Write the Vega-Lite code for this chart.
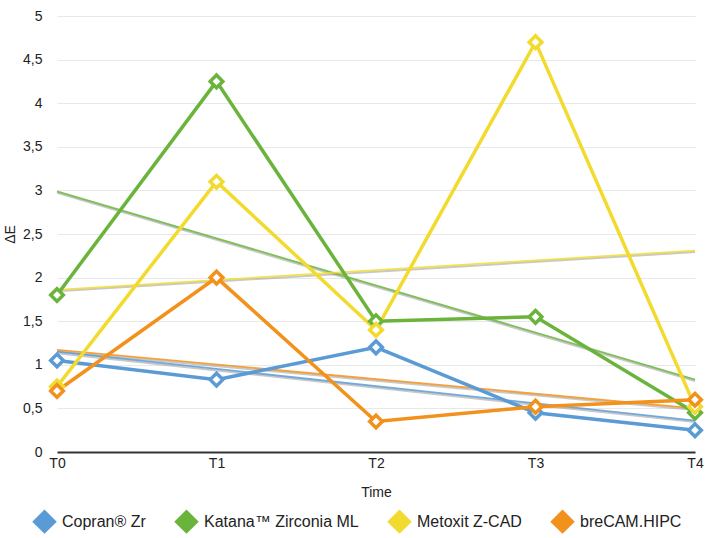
{
  "$schema": "https://vega.github.io/schema/vega-lite/v6.json",
  "width": 638,
  "height": 436,
  "autosize": "none",
  "padding": {"left": 57, "top": 16, "right": 13, "bottom": 86},
  "background": "white",
  "config": {
    "locale": {"number": {"decimal": ",", "thousands": ".", "grouping": [3], "currency": ["", " €"]}},
    "font": "Liberation Sans",
    "view": {"stroke": null}
  },
  "datasets": {
    "obs": [
      {"series": "Copran® Zr", "time": "T0", "value": 1.05},
      {"series": "Copran® Zr", "time": "T1", "value": 0.83},
      {"series": "Copran® Zr", "time": "T2", "value": 1.2},
      {"series": "Copran® Zr", "time": "T3", "value": 0.45},
      {"series": "Copran® Zr", "time": "T4", "value": 0.25},
      {"series": "Katana™ Zirconia ML", "time": "T0", "value": 1.8},
      {"series": "Katana™ Zirconia ML", "time": "T1", "value": 4.25},
      {"series": "Katana™ Zirconia ML", "time": "T2", "value": 1.5},
      {"series": "Katana™ Zirconia ML", "time": "T3", "value": 1.55},
      {"series": "Katana™ Zirconia ML", "time": "T4", "value": 0.45},
      {"series": "Metoxit Z-CAD", "time": "T0", "value": 0.75},
      {"series": "Metoxit Z-CAD", "time": "T1", "value": 3.1},
      {"series": "Metoxit Z-CAD", "time": "T2", "value": 1.4},
      {"series": "Metoxit Z-CAD", "time": "T3", "value": 4.7},
      {"series": "Metoxit Z-CAD", "time": "T4", "value": 0.52},
      {"series": "breCAM.HIPC", "time": "T0", "value": 0.7},
      {"series": "breCAM.HIPC", "time": "T1", "value": 2.0},
      {"series": "breCAM.HIPC", "time": "T2", "value": 0.35},
      {"series": "breCAM.HIPC", "time": "T3", "value": 0.52},
      {"series": "breCAM.HIPC", "time": "T4", "value": 0.6}
    ],
    "trend": [
      {"series": "Copran® Zr", "time": "T0", "value": 1.15},
      {"series": "Copran® Zr", "time": "T4", "value": 0.36},
      {"series": "Katana™ Zirconia ML", "time": "T0", "value": 2.99},
      {"series": "Katana™ Zirconia ML", "time": "T4", "value": 0.83},
      {"series": "Metoxit Z-CAD", "time": "T0", "value": 1.86},
      {"series": "Metoxit Z-CAD", "time": "T4", "value": 2.31},
      {"series": "breCAM.HIPC", "time": "T0", "value": 1.17},
      {"series": "breCAM.HIPC", "time": "T4", "value": 0.5}
    ]
  },
  "encoding": {
    "x": {
      "field": "time", "type": "ordinal",
      "scale": {"type": "point", "padding": 0, "domain": ["T0", "T1", "T2", "T3", "T4"]},
      "axis": {
        "title": "Time", "labelAngle": 0, "labelFontSize": 14, "labelColor": "#222",
        "labelPadding": 4, "ticks": false, "domainColor": "#333", "domainWidth": 2,
        "titleFontSize": 14, "titleFontWeight": "normal", "titleColor": "#222", "titlePadding": 15,
        "grid": false
      }
    },
    "y": {
      "field": "value", "type": "quantitative",
      "scale": {"domain": [0, 5], "nice": false, "zero": true},
      "axis": {
        "title": "ΔE", "values": [0, 0.5, 1, 1.5, 2, 2.5, 3, 3.5, 4, 4.5, 5],
        "format": ".1~f", "labelFontSize": 14, "labelColor": "#222", "labelPadding": 15,
        "ticks": false, "domain": false, "gridColor": "#e8e8e8", "gridWidth": 1,
        "titleFontSize": 14, "titleFontWeight": "normal", "titleColor": "#222", "titlePadding": 5
      }
    },
    "color": {
      "field": "series", "type": "nominal",
      "scale": {
        "domain": ["Copran® Zr", "Katana™ Zirconia ML", "Metoxit Z-CAD", "breCAM.HIPC"],
        "range": ["#5b9bd5", "#6ab43c", "#f3da2e", "#f2911b"]
      },
      "legend": {
        "title": null, "orient": "none", "direction": "horizontal", "columns": 4,
        "legendX": -25, "legendY": 493, "symbolType": "diamond", "symbolSize": 600,
        "symbolStrokeWidth": 0, "labelFontSize": 16, "labelColor": "#222",
        "labelOffset": 5, "columnPadding": 28,
        "encode": {"symbols": {"update": {"fill": {"scale": "color", "field": "value"}, "fillOpacity": {"value": 1}, "opacity": {"value": 1}, "strokeWidth": {"value": 0}}}}
      }
    }
  },
  "layer": [
    {
      "data": {"name": "trend"},
      "mark": {"type": "line", "color": "#9a9a9a", "opacity": 0.55, "strokeWidth": 2, "yOffset": 1.5},
      "encoding": {"detail": {"field": "series", "type": "nominal"}, "color": null}
    },
    {
      "data": {"name": "trend"},
      "mark": {"type": "line", "strokeWidth": 1.8, "opacity": 0.85},
      "encoding": {}
    },
    {
      "data": {"name": "obs"},
      "mark": {"type": "line", "strokeWidth": 3.5},
      "encoding": {}
    },
    {
      "data": {"name": "obs"},
      "mark": {"type": "point", "shape": "diamond", "filled": false, "fill": "white", "fillOpacity": 1, "strokeWidth": 3.5, "size": 160, "opacity": 1},
      "encoding": {}
    }
  ]
}
